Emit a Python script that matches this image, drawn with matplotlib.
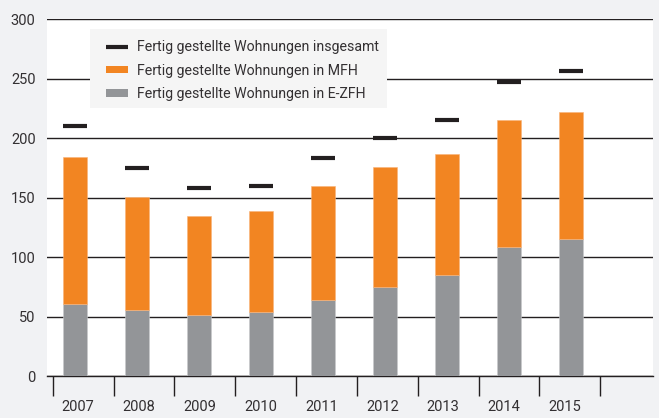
import matplotlib
matplotlib.use("Agg")
import matplotlib.pyplot as plt
from matplotlib.lines import Line2D
from matplotlib.patches import Patch, Rectangle
import numpy as np

years = ["2007", "2008", "2009", "2010", "2011", "2012", "2013", "2014", "2015"]
ezfh = [61, 55.5, 51.5, 54, 64, 75, 85, 108.5, 115.5]
mfh = [123, 95, 83.5, 85, 96, 100.5, 102, 106.5, 106.5]
insgesamt = [210.5, 175, 158, 160, 183.5, 200, 215, 247, 256.5]
yticks = [0, 50, 100, 150, 200, 250, 300]
labels = ["Fertig gestellte Wohnungen insgesamt",
          "Fertig gestellte Wohnungen in MFH",
          "Fertig gestellte Wohnungen in E-ZFH"]

ORANGE = "#f28522"
GRAY = "#939598"
DARK = "#231f20"
TEXT = "#333032"
BG = "#f1f2f4"

plt.rcParams['font.family'] = ['Roboto', 'DejaVu Sans']

fig = plt.figure(figsize=(6.59, 4.18), dpi=100, facecolor=BG)
W, H = 659, 418
left_px, right_px, top_px, bot_px = 46.7, 652.7, 19.0, 376.3
ax = fig.add_axes([left_px / W, 1 - bot_px / H, (right_px - left_px) / W, (bot_px - top_px) / H])
ax.set_facecolor("white")

x = np.arange(len(years))
bw = 0.395
ax.bar(x, ezfh, bw, color=GRAY, edgecolor="#c8c9cb", linewidth=0.4, zorder=3)
ax.bar(x, mfh, bw, bottom=ezfh, color=ORANGE, edgecolor="#f8b47a", linewidth=0.4, zorder=3)
ax.hlines(insgesamt, x - bw / 2, x + bw / 2, color=DARK, lw=3.0, zorder=4)

# bar i sits at 75 + 62*i px
ax.set_xlim((left_px - 75) / 62, (right_px - 75) / 62)
ax.set_ylim(0, 300)

for s in ["left", "right", "top"]:
    ax.spines[s].set_visible(False)
ax.spines["bottom"].set_color(DARK)
ax.spines["bottom"].set_linewidth(1.0)

ax.set_yticks(yticks)
ax.set_yticklabels([str(v) for v in yticks])
ax.tick_params(axis="y", length=0, pad=8, labelsize=10.5, labelcolor=TEXT)
ax.yaxis.grid(True, color=DARK, lw=1.0, zorder=1)
ax.set_axisbelow(True)

n = len(years)
sep = [(52.7 + 60.85 * k - 75) / 62 for k in range(n + 1)]
labpos = [(77.8 + 60.9 * i - 75) / 62 for i in range(n)]
ax.set_xticks(labpos)
ax.set_xticklabels(years)
ax.set_xticks(sep, minor=True)
ax.tick_params(axis="x", which="major", length=0, pad=17, labelsize=10.5, labelcolor=TEXT)
ax.tick_params(axis="x", which="minor", length=14.5, width=1.0, color=DARK, direction="out")

fx = lambda px: (px - left_px) / (right_px - left_px)
fy = lambda py: (bot_px - py) / (bot_px - top_px)
ax.add_patch(Rectangle((fx(90), fy(108)), fx(387) - fx(90), fy(29) - fy(108),
                       transform=ax.transAxes, facecolor="#f5f5f5", edgecolor="none", zorder=5))
handles = [Line2D([], [], color=DARK, lw=3.0, solid_capstyle="butt"),
           Patch(facecolor=ORANGE, edgecolor="none"),
           Patch(facecolor=GRAY, edgecolor="none")]
leg = ax.legend(handles, labels, loc="upper left", frameon=False,
                bbox_to_anchor=(fx(106), fy(40)),
                borderaxespad=0, borderpad=0, fontsize=10.2, handlelength=1.55, handleheight=0.45,
                handletextpad=0.62, labelspacing=0.68, labelcolor=TEXT)
leg.set_zorder(6)

fig.savefig("out.png", dpi=100, facecolor=BG)
